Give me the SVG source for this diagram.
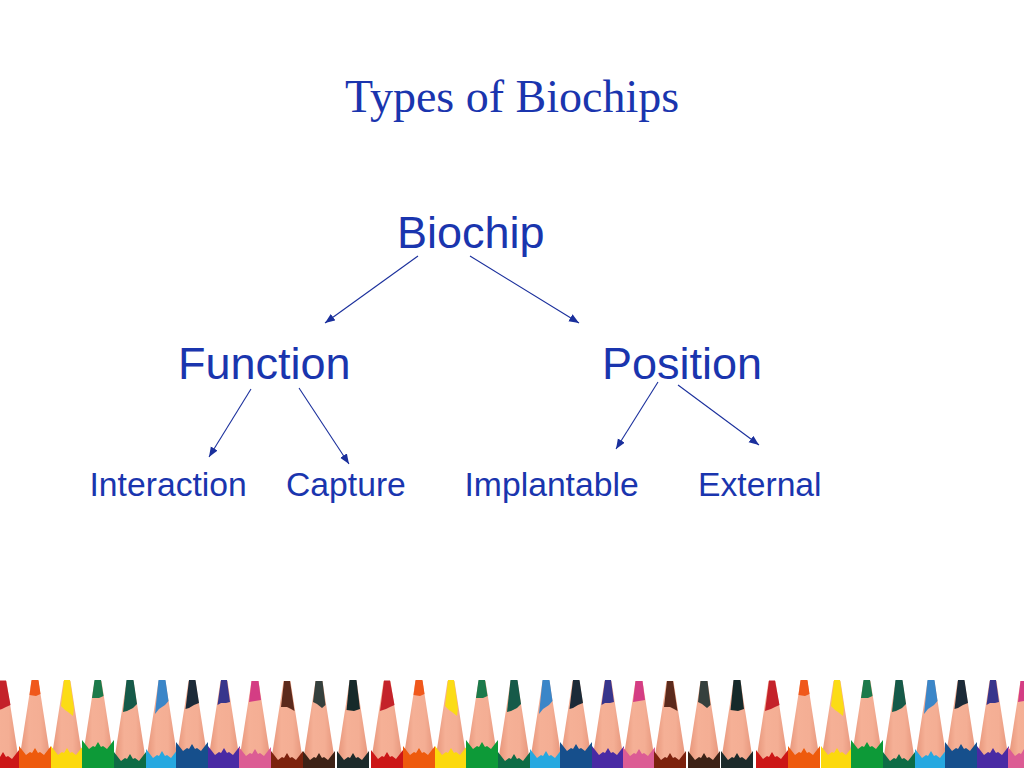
<svg xmlns="http://www.w3.org/2000/svg" xmlns:xlink="http://www.w3.org/1999/xlink" width="1024" height="768" viewBox="0 0 1024 768">
<style>
.t{font-family:"Liberation Sans",Arial,sans-serif;fill:#1a35ae}
.big{font-size:45px}
.small{font-size:33.7px}
.title{font-family:"Liberation Serif","Times New Roman",serif;font-size:46px;fill:#1a35ae}
.c line{stroke:#1a2f9c;stroke-width:1.1;marker-end:url(#a)}
</style>
<defs>
<marker id="a" markerUnits="userSpaceOnUse" markerWidth="11" markerHeight="10" refX="10" refY="4" orient="auto"><path d="M0 0L10 4L0 8Z" fill="#1a2f9c"/></marker>
<filter id="soft" x="-2%" y="-5%" width="104%" height="110%"><feGaussianBlur stdDeviation="0.6"/></filter>
<linearGradient id="w" x1="0" x2="1" y1="0" y2="0"><stop offset="0" stop-color="#e8977c"/><stop offset="0.3" stop-color="#f5b096"/><stop offset="0.7" stop-color="#f4ae94"/><stop offset="1" stop-color="#e8987e"/></linearGradient>
<path id="wood" d="M-3.500 681H3.500L14.500 752V768H-14.500V752Z" fill="url(#w)"/>
<path id="body" d="M-16 24V-7L-9 2L-5 -1L-3 0L0 -5L3 0L5 -1L9 2L16 -7V24Z"/>
<g id="red"><use xlink:href="#wood"/><path d="M-3 680.500H3L7.500 705L3 707L-1 709L-7 711Z" fill="#c4202c"/><use xlink:href="#body" y="757" fill="#cc1418"/></g>
<g id="orange"><use xlink:href="#wood"/><path d="M-3.500 680H3.500L5.500 694L1 696L-5.500 695Z" fill="#f0591c"/><use xlink:href="#body" y="753" fill="#ee5a08"/></g>
<g id="yellow"><use xlink:href="#wood"/><path d="M-3 680H3L7 708L6 716L1 712L-2 710L-6 706Z" fill="#fbdc18"/><use xlink:href="#body" y="753" fill="#fcd90e"/></g>
<g id="green"><use xlink:href="#wood"/><path d="M-3.500 680H3L5.500 696L1 698L-6 698Z" fill="#1a7a4c"/><use xlink:href="#body" y="747" fill="#0f9a38"/></g>
<g id="dkgreen"><use xlink:href="#wood"/><path d="M-3.500 680H3.500L7 704L3 708L-3 711L-7 712Z" fill="#125a48"/><use xlink:href="#body" y="759" fill="#0c6c44"/></g>
<g id="blue"><use xlink:href="#wood"/><path d="M-3.500 680H3.500L6.500 701L3 705L-3 709L-7 714Z" fill="#3a86c8"/><use xlink:href="#body" y="756" fill="#28a8e0"/></g>
<g id="dkblue"><use xlink:href="#wood"/><path d="M-3 680H3.500L7 703L2 705L-3 708L-6.500 709Z" fill="#1c2c38"/><use xlink:href="#body" y="749" fill="#14508c"/></g>
<g id="purple"><use xlink:href="#wood"/><path d="M-3 680H3L6 702L2 703L-3 703L-6.500 705Z" fill="#38348c"/><use xlink:href="#body" y="753" fill="#4a2ca4"/></g>
<g id="pink"><use xlink:href="#wood"/><path d="M-3.500 681H3.500L6 700L0 701L-6 702Z" fill="#d43c84"/><use xlink:href="#body" y="754" fill="#dc5c94"/></g>
<g id="brown"><use xlink:href="#wood"/><path d="M-3 681H3L7.500 711L4 709L0 707L-6 707Z" fill="#5c2c1c"/><use xlink:href="#body" y="758" fill="#7c2010"/></g>
<g id="grey"><use xlink:href="#wood"/><path d="M-3.500 681H3.500L6.500 705L3 708L-2 704L-6 702Z" fill="#34403c"/><use xlink:href="#body" y="758" fill="#3c2418"/></g>
<g id="black"><use xlink:href="#wood"/><path d="M-3.500 680H3.500L7 709L1 711L-6.500 710Z" fill="#182c2c"/><use xlink:href="#body" y="758" fill="#1c2c2c"/></g>
</defs>
<rect width="1024" height="768" fill="#fff"/>
<g id="pencils" filter="url(#soft)">
<use xlink:href="#red" x="3"/><use xlink:href="#orange" x="35"/><use xlink:href="#yellow" x="67"/><use xlink:href="#green" x="98"/><use xlink:href="#dkgreen" x="130"/><use xlink:href="#blue" x="162"/><use xlink:href="#dkblue" x="192"/><use xlink:href="#purple" x="224"/><use xlink:href="#pink" x="255"/><use xlink:href="#brown" x="287"/><use xlink:href="#grey" x="319"/><use xlink:href="#black" x="353"/>
<use xlink:href="#red" x="387"/><use xlink:href="#orange" x="419"/><use xlink:href="#yellow" x="451"/><use xlink:href="#green" x="482"/><use xlink:href="#dkgreen" x="514"/><use xlink:href="#blue" x="546"/><use xlink:href="#dkblue" x="576"/><use xlink:href="#purple" x="608"/><use xlink:href="#pink" x="639"/><use xlink:href="#brown" x="670"/><use xlink:href="#grey" x="704"/><use xlink:href="#black" x="737"/>
<use xlink:href="#red" x="772"/><use xlink:href="#orange" x="804"/><use xlink:href="#yellow" x="837"/><use xlink:href="#green" x="867"/><use xlink:href="#dkgreen" x="899"/><use xlink:href="#blue" x="931"/><use xlink:href="#dkblue" x="961"/><use xlink:href="#purple" x="993"/><use xlink:href="#pink" x="1024"/>
</g>
<text class="title" x="345" y="112">Types of Biochips</text>
<g id="connectors" class="c">
<line x1="418" y1="256" x2="325" y2="323"/>
<line x1="470" y1="256" x2="579" y2="323"/>
<line x1="251" y1="389" x2="209" y2="457"/>
<line x1="299" y1="388" x2="349" y2="464"/>
<line x1="658" y1="382" x2="616" y2="449"/>
<line x1="678" y1="385" x2="759" y2="445"/>
</g>
<g id="biochip"><text class="t big" x="397" y="248">Biochip</text></g>
<g id="function"><text class="t big" x="178" y="379">Function</text></g>
<g id="position"><text class="t big" x="602" y="379">Position</text></g>
<g id="interaction"><text class="t small" x="89.500" y="496">Interaction</text></g>
<g id="capture"><text class="t small" x="286" y="496">Capture</text></g>
<g id="implantable"><text class="t small" x="464.500" y="496">Implantable</text></g>
<g id="external"><text class="t small" x="698" y="496">External</text></g>
</svg>
